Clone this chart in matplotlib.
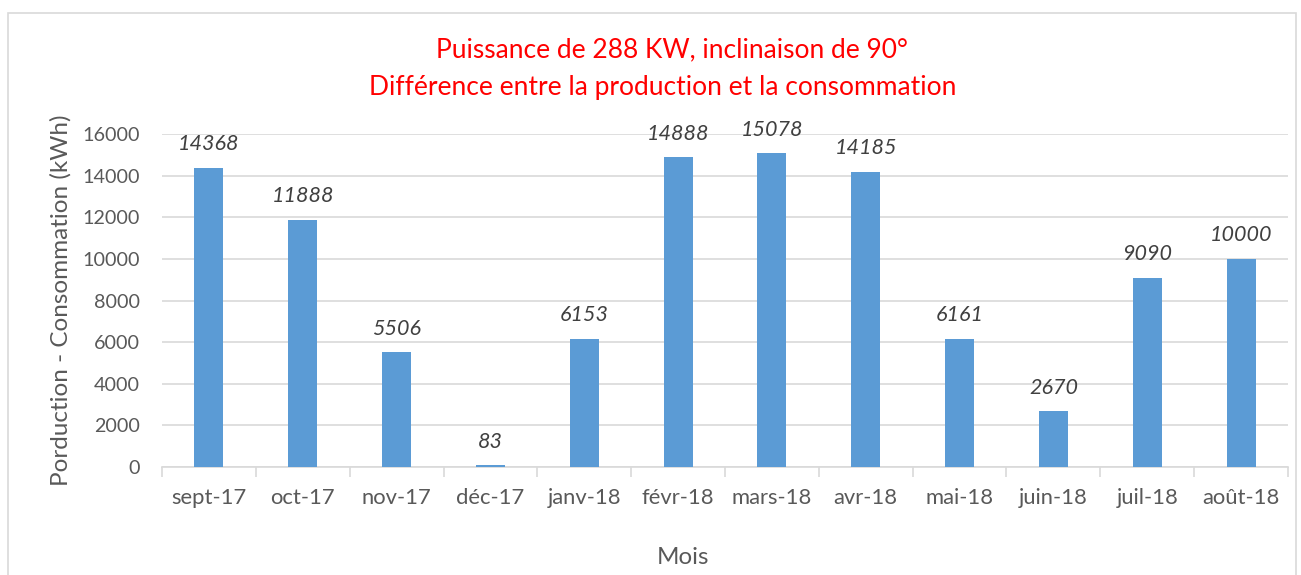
import matplotlib
matplotlib.use("Agg")
import matplotlib.pyplot as plt
import numpy as np
from matplotlib.patches import Rectangle

plt.rcParams['font.family'] = ['Lato', 'DejaVu Sans']

mois = ["sept-17", "oct-17", "nov-17", "déc-17", "janv-18", "févr-18",
        "mars-18", "avr-18", "mai-18", "juin-18", "juil-18", "août-18"]
difference = [14368, 11888, 5506, 83, 6153, 14888, 15078, 14185, 6161, 2670, 9090, 10000]
yticks = [0, 2000, 4000, 6000, 8000, 10000, 12000, 14000, 16000]

bar_color = "#5B9BD5"
grid_color = "#D9D9D9"
text_color = "#595959"

fig = plt.figure(figsize=(13.01, 5.75), dpi=100)
fig.patches.append(Rectangle((8 / 1301, -0.1), 1288 / 1301, 1 - 13 / 575 + 0.1,
                             transform=fig.transFigure, fill=False,
                             edgecolor=grid_color, linewidth=1.2))
ax = fig.add_axes([162 / 1301, 1 - 467 / 575, 1126 / 1301, 333 / 575])

x = np.arange(len(mois))
ax.bar(x, difference, width=0.31, color=bar_color, zorder=3)
for xi, v in zip(x, difference):
    ax.text(xi, v + 650, str(v), ha="center", va="bottom", style="italic",
            fontsize=15.5, color="#404040")

ax.set_xlim(-0.5, len(mois) - 0.5)
ax.set_ylim(0, 16000)
ax.set_yticks(yticks)
ax.set_yticklabels([str(t) for t in yticks], fontsize=14.2, color=text_color)
ax.set_xticks(x)
ax.set_xticklabels(mois, fontsize=15.8, color=text_color)
ax.tick_params(axis="y", length=0, pad=16)
ax.tick_params(axis="x", length=0, pad=15)
ax.set_xticks(np.arange(-0.5, len(mois)), minor=True)
ax.tick_params(axis="x", which="minor", length=7, color=grid_color, width=1.2)
ax.grid(axis="y", color=grid_color, linewidth=1.2, zorder=0)
for s in ["top", "right", "left"]:
    ax.spines[s].set_visible(False)
ax.spines["bottom"].set_color(grid_color)
ax.spines["bottom"].set_linewidth(1.2)

ax.set_ylabel("Porduction - Consommation (kWh)", fontsize=17.5, color=text_color, labelpad=8)
fig.text(683 / 1301, 1 - 557 / 575, "Mois", ha="center", va="center", fontsize=17.4, color=text_color)
fig.text(672 / 1301, 1 - 50 / 575, "Puissance de 288 KW, inclinaison de 90°",
         ha="center", va="center", fontsize=19, color="#FF0000")
fig.text(663 / 1301, 1 - 87 / 575, "Différence entre la production et la consommation",
         ha="center", va="center", fontsize=19, color="#FF0000")

fig.savefig("out.png", dpi=100, facecolor="white")
